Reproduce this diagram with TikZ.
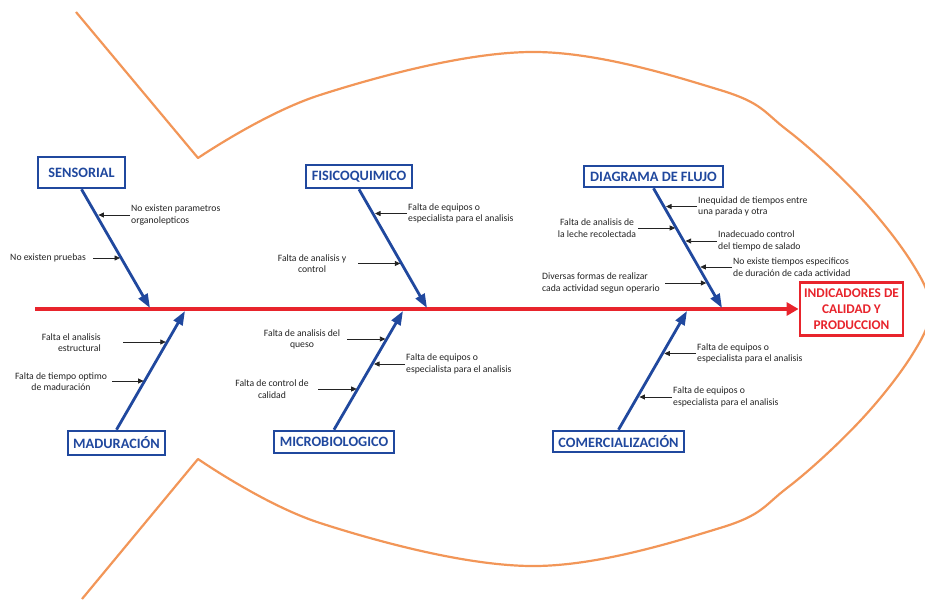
\documentclass[tikz,border=0pt]{standalone}
\usepackage{fontspec}
\setmainfont{Carlito}
\usetikzlibrary{arrows.meta}
\definecolor{fbblue}{RGB}{32,72,158}
\definecolor{fbred}{RGB}{232,36,44}
\definecolor{fborange}{RGB}{242,150,88}
\definecolor{fbtext}{RGB}{35,35,35}
\tikzset{
  catbox/.style 2 args={draw=fbblue, line width=2.6pt, text=fbblue, fill=white,
    font=\fontsize{14.3}{16}\selectfont\bfseries, inner sep=0pt,
    minimum width=#1, minimum height=#2},
  effbox/.style={draw=fbred, line width=2.8pt, text=fbred, fill=white,
    font=\fontsize{13.3}{16}\selectfont\bfseries, align=center, inner sep=0pt,
    minimum width=103pt, minimum height=53pt},
  spine/.style={draw=fbred, line width=3.6pt, -{Triangle[length=12pt,width=13pt]}},
  bone/.style={draw=fbblue, line width=2.8pt, -{Triangle[length=14pt,width=10pt]}},
  cause/.style={draw=fbtext, line width=0.8pt, -{Triangle[length=5.5pt,width=5pt]}},
  lbl/.style={text=fbtext, font=\fontsize{9.7}{11.6}\selectfont, inner sep=1pt},
  lblR/.style={lbl, anchor=west, align=left},
  fishline/.style={draw=fborange, line width=2.2pt, line join=round}
}
\begin{document}
\begin{tikzpicture}[x=1pt,y=-1pt]
\useasboundingbox (0,0) rectangle (925,599);
\clip (0,0) rectangle (925,599);

% fish outline
\draw[fishline] (76,12) -- (198,158) -- plot[smooth, tension=0.6] coordinates {
  (198,158) (320,95) (530,52) (720,90) (787,130) (860,197) (912,263) (930,309)
  (912,355) (860,421) (787,488) (720,528) (530,566) (320,523) (198,459)} -- (82,599);

% effect and categories
\node[effbox] (ind) at (851.5,309) {INDICADORES DE\\CALIDAD Y\\PRODUCCION};
\node[catbox={87pt}{31pt}] (sens) at (81.5,172.5) {SENSORIAL};
\node[catbox={106pt}{23pt}] (fisi) at (359,176.5) {FISICOQUIMICO};
\node[catbox={139pt}{21pt}] (diag) at (653.5,176.5) {DIAGRAMA DE FLUJO};
\node[catbox={97pt}{24pt}] (madu) at (116.5,443) {MADURACIÓN};
\node[catbox={120pt}{22pt}] (micro) at (334,442) {MICROBIOLOGICO};
\node[catbox={131pt}{21pt}] (comer) at (618.5,441.5) {COMERCIALIZACIÓN};

% spine
\coordinate (tail) at (35,309);
\draw[spine] (tail) -- (ind.west);

% bones
\coordinate (sensT) at (150,308);
\coordinate (fisiT) at (427,308);
\coordinate (diagT) at (722,308);
\coordinate (maduT) at (185,311);
\coordinate (microT) at (403,311);
\coordinate (comerT) at (687,311);
\draw[bone] (sens.south) -- (sensT);
\draw[bone] (fisi.south) -- (fisiT);
\draw[bone] (diag.south) -- (diagT);
\draw[bone] (madu.north) -- (maduT);
\draw[bone] (micro.north) -- (microT);
\draw[bone] (comer.north) -- (comerT);

% causes right of bones
\node[lblR] (l1) at (130,215) {No existen parametros\\organolepticos};
\coordinate (b1) at (98.4,215);
\draw[cause] (l1.west) -- (b1);
\node[lblR] (l2) at (407,213.5) {Falta de equipos o\\especialista para el analisis};
\coordinate (b2) at (375,213.5);
\draw[cause] (l2.west) -- (b2);
\node[lblR] (l3) at (697,206.5) {Inequidad de tiempos entre\\una parada y otra};
\coordinate (b3) at (666,206.5);
\draw[cause] (l3.west) -- (b3);
\node[lblR] (l4) at (717,241) {Inadecuado control\\del tiempo de salado};
\coordinate (b4) at (685.6,241);
\draw[cause] (l4.west) -- (b4);
\node[lblR] (l5) at (732,267) {No existe tiempos especificos\\de duración de cada actividad};
\coordinate (b5) at (700.3,267);
\draw[cause] (l5.west) -- (b5);
\node[lblR] (l6) at (405,364) {Falta de equipos o\\especialista para el analisis};
\coordinate (b6) at (374,364);
\draw[cause] (l6.west) -- (b6);
\node[lblR] (l7) at (696,353.5) {Falta de equipos o\\especialista para el analisis};
\coordinate (b7) at (664.3,353.5);
\draw[cause] (l7.west) -- (b7);
\node[lblR] (l8) at (672,397) {Falta de equipos o\\especialista para el analisis};
\coordinate (b8) at (639.4,397);
\draw[cause] (l8.west) -- (b8);

% causes left of bones
\node[lbl, anchor=east] (l9) at (87,258) {No existen pruebas};
\coordinate (a9) at (93,258);
\coordinate (b9) at (120,258);
\draw[cause] (a9) -- (b9);
\node[lbl, align=center] (l10) at (312,263.5) {Falta de analisis y\\control};
\coordinate (a10) at (358,263.5);
\coordinate (b10) at (400.3,263.5);
\draw[cause] (a10) -- (b10);
\node[lbl, align=center] (l11) at (597,228) {Falta de analisis de\\la leche recolectada};
\coordinate (a11) at (638,228);
\coordinate (b11) at (675.2,228);
\draw[cause] (a11) -- (b11);
\node[lbl, anchor=west, align=left] (l12) at (541,283) {Diversas formas de realizar\\cada actividad segun operario};
\coordinate (a12) at (665,283);
\coordinate (b12) at (706.3,283);
\draw[cause] (a12) -- (b12);
\node[lbl, anchor=east, align=right] (l13) at (102,342.5) {Falta el analisis\\estructural};
\coordinate (a13) at (123,342);
\coordinate (b13) at (165.8,342);
\draw[cause] (a13) -- (b13);
\node[lbl, align=center] (l14) at (61,381.5) {Falta de tiempo optimo\\de maduración};
\coordinate (a14) at (112,381);
\coordinate (b14) at (143.6,381);
\draw[cause] (a14) -- (b14);
\node[lbl, align=center] (l15) at (302,339.5) {Falta de analisis del\\queso};
\coordinate (a15) at (347,339);
\coordinate (b15) at (385.4,339);
\draw[cause] (a15) -- (b15);
\node[lbl, align=center] (l16) at (272,389) {Falta de control de\\calidad};
\coordinate (a16) at (318,389);
\coordinate (b16) at (356.7,389);
\draw[cause] (a16) -- (b16);
\end{tikzpicture}
\end{document}
